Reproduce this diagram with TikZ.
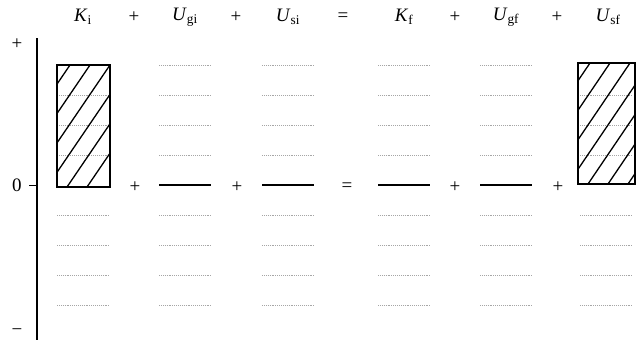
\documentclass[tikz,border=0pt]{standalone}
\usepackage{fontspec}
\setmainfont{Liberation Serif}
\newcommand{\qty}[2]{\textit{#1}\textsubscript{#2}}
\begin{document}
\begin{tikzpicture}[x=1pt, y=-1pt, font=\fontsize{19}{22}\selectfont,
    lvl/.style={gray!70, densely dotted, line width=0.9pt},
    zero/.style={line width=1.3pt},
    bar/.style={draw, line width=1.7pt},
    hatch/.style={line width=1.3pt, line cap=round}]
    \useasboundingbox (0,0) rectangle (642,343);

    % axis
    \draw[line width=1.1pt] (37,38) -- (37,340);
    \draw[line width=0.8pt] (29,185) -- (37,185);
    \node (lp) at (17,44) {+};
    \node (l0) at (17,185) {0};
    \node (lm) at (17,332) {−};

    % header
    \node (hKi) at (83,17) {\qty{K}{i}};   \node (p1) at (134,17) {+};
    \node (hUgi) at (185,17) {\qty{U}{gi}}; \node (p2) at (236,17) {+};
    \node (hUsi) at (288,17) {\qty{U}{si}}; \node (eq) at (343,17) {=};
    \node (hKf) at (404,17) {\qty{K}{f}};  \node (p3) at (455,17) {+};
    \node (hUgf) at (506,17) {\qty{U}{gf}}; \node (p4) at (557,17) {+};
    \node (hUsf) at (608,17) {\qty{U}{sf}};

    % level lines
    \foreach \c in {185,288,404,506} {
        \foreach \y in {65,95,125,155,215,245,275,305}
            \draw[lvl] (\c-26,\y) -- (\c+26,\y);
        \draw[zero] (\c-26,185) -- (\c+26,185);
    }
    \foreach \c in {83,606} {
        \foreach \y in {95,125,155,215,245,275,305}
            \draw[lvl] (\c-26,\y) -- (\c+26,\y);
    }

    % bars
    \begin{scope}
        \clip (57,65) rectangle (110,187);
        \foreach \s in {-13,7,...,87} \draw[hatch] (\s,187) -- ++(83,-122);
    \end{scope}
    \draw[bar] (57,65) rectangle (110,187);
    \begin{scope}
        \clip (578,63) rectangle (635,184);
        \foreach \s in {508,528,...,628} \draw[hatch] (\s,184) -- ++(82,-121);
    \end{scope}
    \draw[bar] (578,63) rectangle (635,184);

    % row 0
    \node (q1) at (135,187) {+};
    \node (q2) at (237,187) {+};
    \node (q3) at (347,187) {=};
    \node (q4) at (455,187) {+};
    \node (q5) at (558,187) {+};
\end{tikzpicture}
\end{document}
